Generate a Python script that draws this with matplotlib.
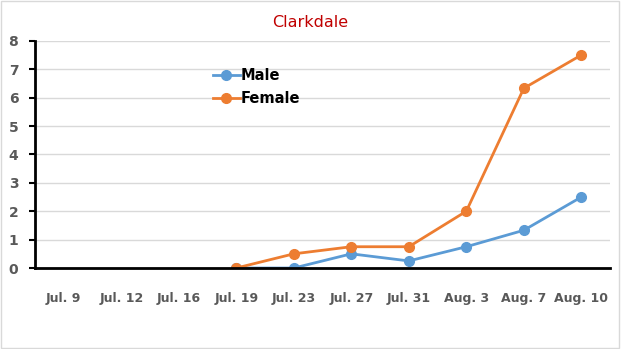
import matplotlib
matplotlib.use("Agg")
import matplotlib.pyplot as plt
import numpy as np

dates = ["Jul. 9", "Jul. 12", "Jul. 16", "Jul. 19", "Jul. 23",
         "Jul. 27", "Jul. 31", "Aug. 3", "Aug. 7", "Aug. 10"]
male = [None, None, None, 0, 0, 0.5, 0.25, 0.75, 1.33, 2.5]
female = [None, None, None, 0, 0.5, 0.75, 0.75, 2, 6.33, 7.5]

def to_arr(vals):
    return np.array([np.nan if v is None else v for v in vals], dtype=float)

fig = plt.figure(figsize=(6.21, 3.49), dpi=100)
fig.patches.append(plt.Rectangle((0.002, 0.003), 0.995, 0.993, transform=fig.transFigure,
                                 fill=False, edgecolor="#d9d9d9", linewidth=1.0))
ax = fig.add_axes([0.0564, 0.232, 0.926, 0.651])

x = np.arange(len(dates))
ax.plot(x, to_arr(male), color="#5B9BD5", linewidth=2.0, marker="o",
        markersize=7, label="Male", zorder=3)
ax.plot(x, to_arr(female), color="#ED7D31", linewidth=2.0, marker="o",
        markersize=7, label="Female", zorder=3)

ax.set_xlim(-0.5, len(dates) - 0.5)
ax.set_ylim(0, 8)
ax.set_yticks(range(0, 9))
ax.set_xticks(x)
ax.set_xticklabels(dates)
ax.grid(True, axis="y", color="#d9d9d9", linewidth=1.0)
ax.set_axisbelow(True)
for s in ["top", "right"]:
    ax.spines[s].set_visible(False)
ax.spines["left"].set_linewidth(2)
ax.spines["bottom"].set_linewidth(2)
ax.spines["bottom"].set_zorder(4)
ax.tick_params(axis="x", length=0, pad=17, labelsize=9, labelcolor="#595959")
ax.tick_params(axis="y", length=4, width=1.5, pad=8, labelsize=10, labelcolor="#595959")
for lbl in ax.get_xticklabels() + ax.get_yticklabels():
    lbl.set_fontweight("bold")

fig.text(0.5, 0.935, "Clarkdale", ha="center", va="center",
         fontsize=11.5, color="#C00000")

leg = ax.legend(loc="upper left", bbox_to_anchor=(0.3, 0.905), frameon=False,
                prop={"weight": "bold", "size": 10.5}, handlelength=1.8,
                handletextpad=0.1, labelspacing=0.55, borderaxespad=0)

fig.savefig("out.png", dpi=100, facecolor="white")
